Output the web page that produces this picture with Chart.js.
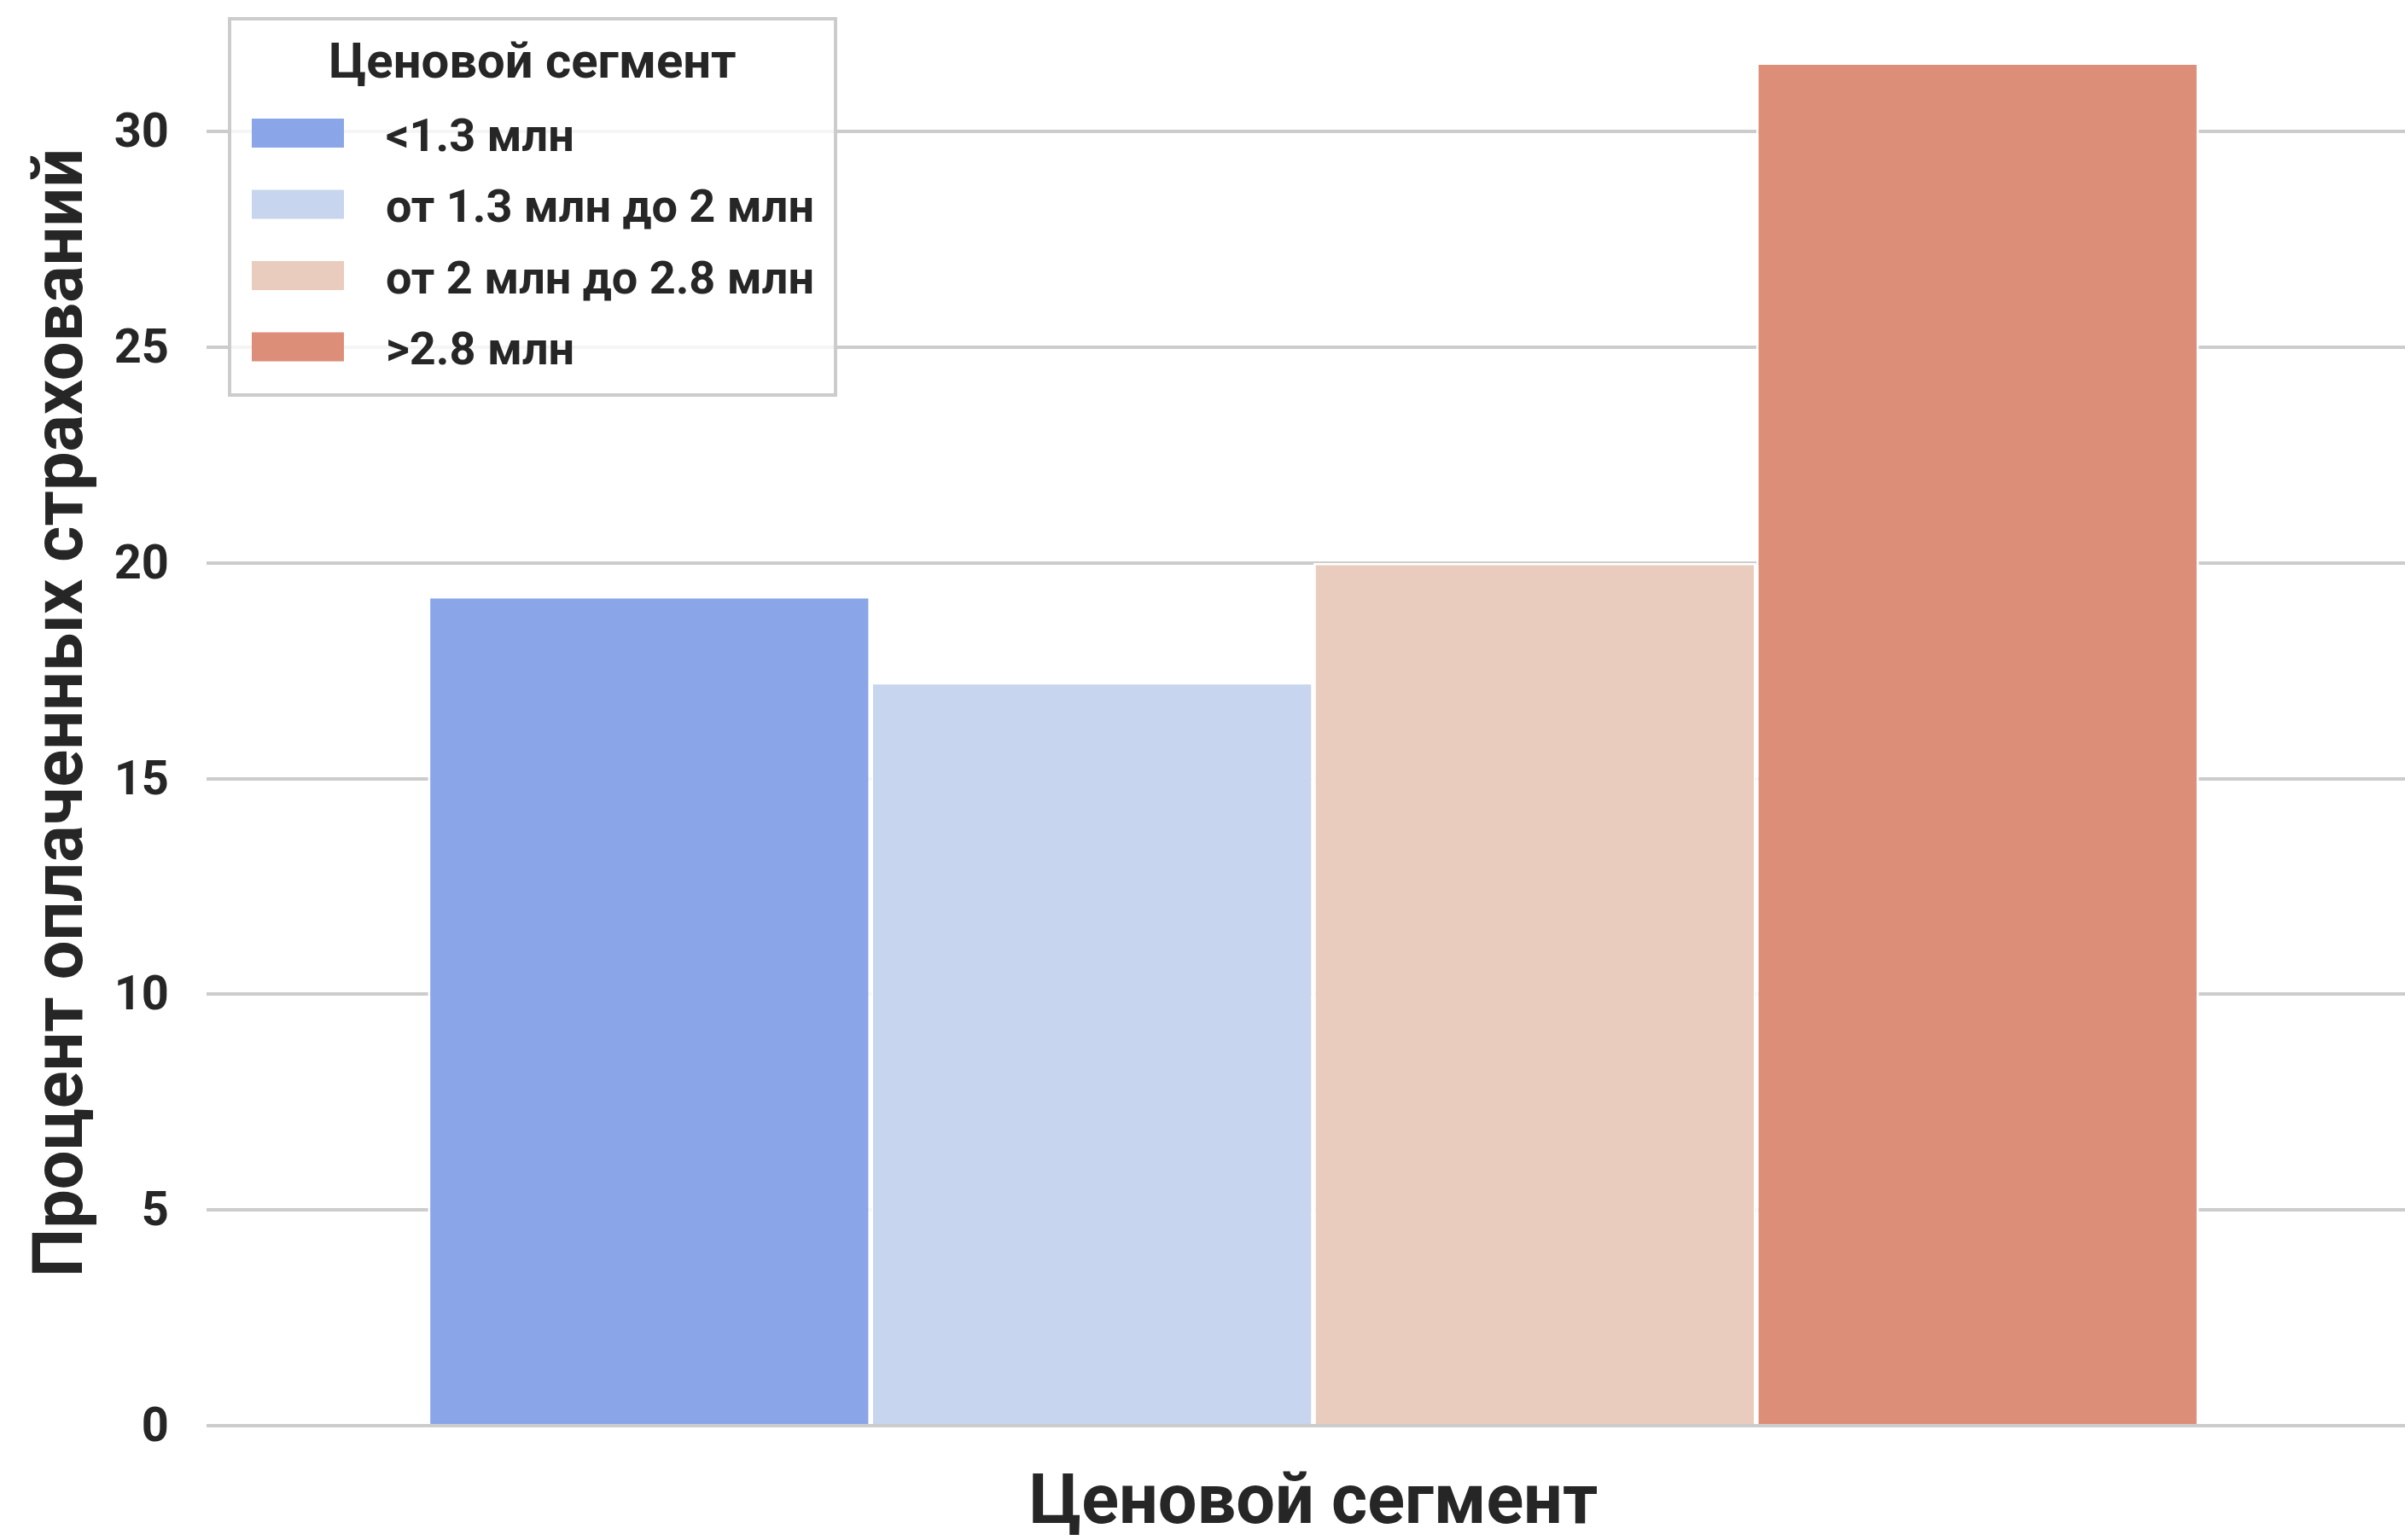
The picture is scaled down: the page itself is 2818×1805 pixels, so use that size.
<!DOCTYPE html>
<html>
<head>
<meta charset="utf-8">
<title>Процент оплаченных страхований по ценовым сегментам</title>
<script src="https://cdn.jsdelivr.net/npm/chart.js@4.4.1/dist/chart.umd.min.js"></script>
<style>
  html, body { margin: 0; padding: 0; background: #ffffff; overflow: hidden; width: 2818px; height: 1805px; }
  canvas { display: block; }
</style>
</head>
<body>
<canvas id="chart" width="2836" height="1805"></canvas>
<script>
// One group on the x axis, one bar per price segment
const groupLabels = [''];
const segments = ['<1.3 млн', 'от 1.3 млн до 2 млн', 'от 2 млн до 2.8 млн', '>2.8 млн'];
const paidShare = [19.23, 17.24, 20.0, 31.6];
const segmentColors = ['#8aa6e8', '#c7d5ef', '#e9ccbd', '#dc8e78'];
const yTickValues = [0, 5, 10, 15, 20, 25, 30];
const yMax = 33.05;
const xTitle = 'Ценовой сегмент';
const yTitle = 'Процент оплаченных страхований';
const legendTitle = 'Ценовой сегмент';

const FONT = 'Roboto, "Noto Sans", sans-serif';
const INK = '#262626';

// Framed legend drawn inside the plot area, top-left corner
const segmentLegend = {
  id: 'segmentLegend',
  afterDraw(chart) {
    const { ctx, chartArea } = chart;
    const x0 = chartArea.left + 27, y0 = chartArea.top + 22;
    const w = 710, h = 441;
    ctx.save();
    ctx.fillStyle = 'rgba(255,255,255,0.8)';
    ctx.fillRect(x0, y0, w, h);
    ctx.strokeStyle = '#cccccc';
    ctx.lineWidth = 4;
    ctx.strokeRect(x0, y0, w, h);

    ctx.fillStyle = INK;
    ctx.font = 'bold 58px ' + FONT;
    ctx.textBaseline = 'middle';
    ctx.textAlign = 'center';
    ctx.fillText(legendTitle, x0 + w / 2, y0 + 54);

    ctx.font = 'bold 54px ' + FONT;
    ctx.textAlign = 'left';
    chart.data.datasets.forEach((ds, i) => {
      const cy = y0 + 134 + i * 83.5;
      ctx.fillStyle = ds.backgroundColor;
      ctx.fillRect(x0 + 26, cy - 17, 108, 34);
      ctx.fillStyle = INK;
      ctx.fillText(ds.label, x0 + 183, cy + 7);
    });
    ctx.restore();
  }
};

const datasets = segments.map((name, i) => ({
  label: name,
  data: [paidShare[i]],
  backgroundColor: segmentColors[i],
  borderColor: '#ffffff',
  borderWidth: 2.8,
  barPercentage: 1.0,
  categoryPercentage: 0.8
}));

new Chart(document.getElementById('chart'), {
  type: 'bar',
  data: { labels: groupLabels, datasets },
  options: {
    responsive: false,
    animation: false,
    devicePixelRatio: 1,
    layout: { padding: 0 },
    plugins: {
      legend: { display: false },
      tooltip: { enabled: false }
    },
    scales: {
      x: {
        grid: { display: false, drawTicks: false },
        border: { display: false },
        ticks: { display: false },
        title: {
          display: true,
          text: xTitle,
          color: INK,
          font: { family: FONT, size: 81, weight: 'bold', lineHeight: 1 },
          padding: { top: 50, bottom: 0 }
        },
        afterFit(scale) { scale.height = 134; }
      },
      y: {
        min: 0,
        max: yMax,
        afterBuildTicks(scale) { scale.ticks = yTickValues.map(v => ({ value: v })); },
        grid: { color: '#cccccc', lineWidth: 4, drawTicks: false },
        border: { display: false },
        ticks: {
          color: INK,
          padding: 44,
          labelOffset: 4,
          font: { family: FONT, size: 56, weight: 'bold' }
        },
        title: {
          display: true,
          text: yTitle,
          color: INK,
          font: { family: FONT, size: 81, weight: 'bold', lineHeight: 1 },
          padding: { top: 35, bottom: 0 }
        },
        afterFit(scale) {
          scale.width = 242;
          scale.paddingTop = 0;
          scale.paddingBottom = 0;
        }
      }
    }
  },
  plugins: [segmentLegend]
});
</script>
</body>
</html>
